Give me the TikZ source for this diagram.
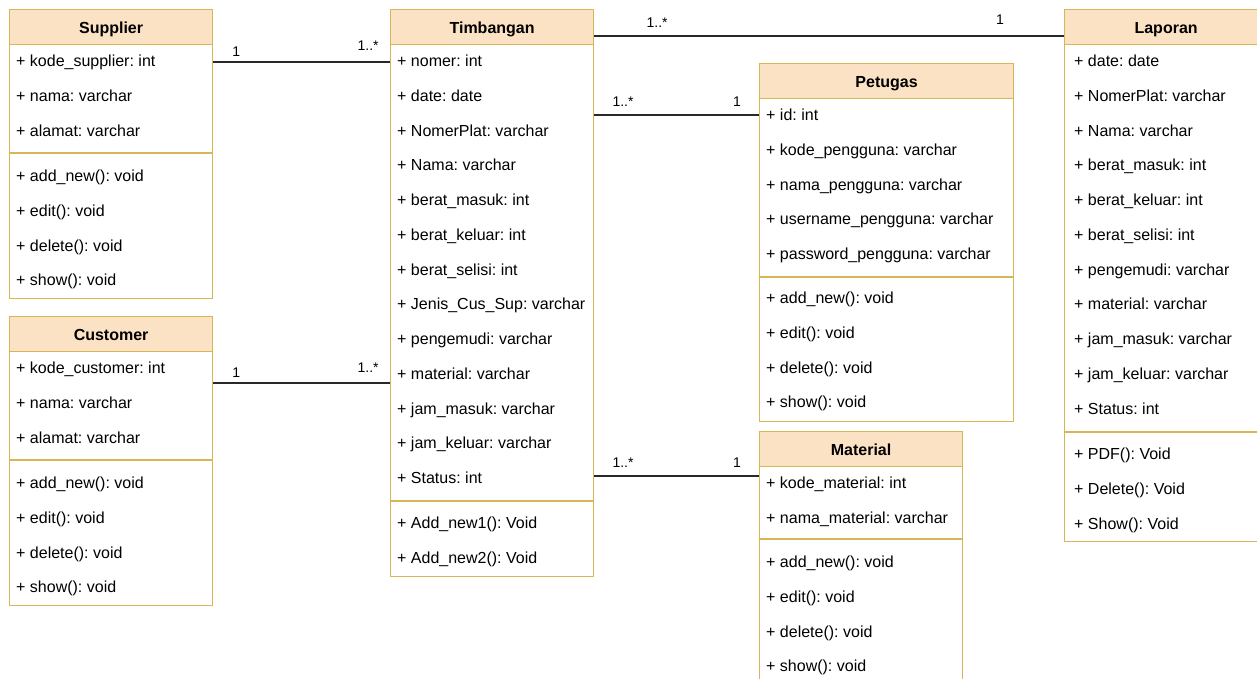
\documentclass[tikz,border=0pt]{standalone}
\usepackage{fontspec}
\setmainfont{Liberation Sans}
\frenchspacing
\definecolor{classline}{RGB}{214,182,86}
\definecolor{classhead}{RGB}{252,226,196}
\definecolor{assocline}{RGB}{40,40,40}

\begin{document}
\begin{tikzpicture}[x=1pt,y=-1pt,
	box/.style={draw=classline,line width=1.2pt,fill=white,anchor=north west,inner sep=0pt},
	head/.style={draw=classline,line width=1.2pt,fill=classhead,anchor=north west,inner sep=0pt,
		minimum height=35pt,text height=12pt,text depth=0pt,font=\fontsize{16}{19}\selectfont\bfseries},
	row/.style={anchor=base west,inner sep=0pt,font=\fontsize{16}{19}\selectfont},
	sep/.style={draw=classline,line width=1.2pt},
	assoc/.style={draw=assocline,line width=1.3pt},
	mult/.style={inner sep=0pt,font=\fontsize{14}{16}\selectfont}]
	\useasboundingbox (0,0) rectangle (1257,678);
	\clip (0,0) rectangle (1257,678);
	\fill[white] (0,0) rectangle (1257,678);

	% Supplier
	\node[box,minimum width=203pt,minimum height=289pt] at (9,9) (sup) {};
	\node[head,minimum width=203pt] at (9,9) (sup-h) {Supplier};
	\foreach \t [count=\i] in {+ kode\_supplier: int, + nama: varchar, + alamat: varchar}
		\node[row] at (16,{31.75+34.75*\i}) (sup-a\i) {\t};
	\draw[sep] (sup.west |- 0,153) -- (sup.east |- 0,153);
	\foreach \t [count=\i] in {+ add\_new(): void, + edit(): void, + delete(): void, + show(): void}
		\node[row] at (16,{146.75+34.75*\i}) (sup-m\i) {\t};

	% Customer
	\node[box,minimum width=203pt,minimum height=289pt] at (9,316) (cus) {};
	\node[head,minimum width=203pt] at (9,316) (cus-h) {Customer};
	\foreach \t [count=\i] in {+ kode\_customer: int, + nama: varchar, + alamat: varchar}
		\node[row] at (16,{338.75+34.75*\i}) (cus-a\i) {\t};
	\draw[sep] (cus.west |- 0,460) -- (cus.east |- 0,460);
	\foreach \t [count=\i] in {+ add\_new(): void, + edit(): void, + delete(): void, + show(): void}
		\node[row] at (16,{453.75+34.75*\i}) (cus-m\i) {\t};

	% Timbangan
	\node[box,minimum width=203pt,minimum height=567pt] at (390,9) (tim) {};
	\node[head,minimum width=203pt] at (390,9) (tim-h) {Timbangan};
	\foreach \t [count=\i] in {+ nomer: int, + date: date, + NomerPlat: varchar, + Nama: varchar,
		+ berat\_masuk: int, + berat\_keluar: int, + berat\_selisi: int, + Jenis\_Cus\_Sup: varchar,
		+ pengemudi: varchar, + material: varchar, + jam\_masuk: varchar, + jam\_keluar: varchar, + Status: int}
		\node[row] at (397,{31.75+34.75*\i}) (tim-a\i) {\t};
	\draw[sep] (tim.west |- 0,501) -- (tim.east |- 0,501);
	\foreach \t [count=\i] in {+ Add\_new1(): Void, + Add\_new2(): Void}
		\node[row] at (397,{493.75+34.75*\i}) (tim-m\i) {\t};

	% Petugas
	\node[box,minimum width=254pt,minimum height=358pt] at (759,63) (pet) {};
	\node[head,minimum width=254pt] at (759,63) (pet-h) {Petugas};
	\foreach \t [count=\i] in {+ id: int, + kode\_pengguna: varchar, + nama\_pengguna: varchar,
		+ username\_pengguna: varchar, + password\_pengguna: varchar}
		\node[row] at (766,{85.75+34.75*\i}) (pet-a\i) {\t};
	\draw[sep] (pet.west |- 0,277) -- (pet.east |- 0,277);
	\foreach \t [count=\i] in {+ add\_new(): void, + edit(): void, + delete(): void, + show(): void}
		\node[row] at (766,{268.75+34.75*\i}) (pet-m\i) {\t};

	% Material
	\node[box,minimum width=203pt,minimum height=270pt] at (759,431) (mat) {};
	\node[head,minimum width=203pt] at (759,431) (mat-h) {Material};
	\foreach \t [count=\i] in {+ kode\_material: int, + nama\_material: varchar}
		\node[row] at (766,{453.75+34.75*\i}) (mat-a\i) {\t};
	\draw[sep] (mat.west |- 0,539) -- (mat.east |- 0,539);
	\foreach \t [count=\i] in {+ add\_new(): void, + edit(): void, + delete(): void, + show(): void}
		\node[row] at (766,{532.75+34.75*\i}) (mat-m\i) {\t};

	% Laporan
	\node[box,minimum width=203pt,minimum height=532pt] at (1064,9) (lap) {};
	\node[head,minimum width=203pt] at (1064,9) (lap-h) {Laporan};
	\foreach \t [count=\i] in {+ date: date, + NomerPlat: varchar, + Nama: varchar, + berat\_masuk: int,
		+ berat\_keluar: int, + berat\_selisi: int, + pengemudi: varchar, + material: varchar,
		+ jam\_masuk: varchar, + jam\_keluar: varchar, + Status: int}
		\node[row] at (1074,{31.75+34.75*\i}) (lap-a\i) {\t};
	\draw[sep] (lap.west |- 0,432) -- (lap.east |- 0,432);
	\foreach \t [count=\i] in {+ PDF(): Void, + Delete(): Void, + Show(): Void}
		\node[row] at (1074,{424.75+34.75*\i}) (lap-m\i) {\t};

	% associations
	\draw[assoc] (sup.east |- 0,62) -- node[mult,pos=0.13,above=5pt] (m1) {1}
		node[mult,pos=0.876,above=11pt] (m2) {1..*} (tim.west |- 0,62);
	\draw[assoc] (cus.east |- 0,383) -- node[mult,pos=0.13,above=5pt] (m3) {1}
		node[mult,pos=0.876,above=10pt] (m4) {1..*} (tim.west |- 0,383);
	\draw[assoc] (tim.east |- 0,36) -- node[mult,pos=0.134,above=8pt] (m5) {1..*}
		node[mult,pos=0.864,above=11pt] (m6) {1} (lap.west |- 0,36);
	\draw[assoc] (tim.east |- 0,115) -- node[mult,pos=0.175,above=8pt] (m7) {1..*}
		node[mult,pos=0.867,above=8pt] (m8) {1} (pet.west |- 0,115);
	\draw[assoc] (tim.east |- 0,476) -- node[mult,pos=0.175,above=8pt] (m9) {1..*}
		node[mult,pos=0.867,above=8pt] (m10) {1} (mat.west |- 0,476);
\end{tikzpicture}
\end{document}
